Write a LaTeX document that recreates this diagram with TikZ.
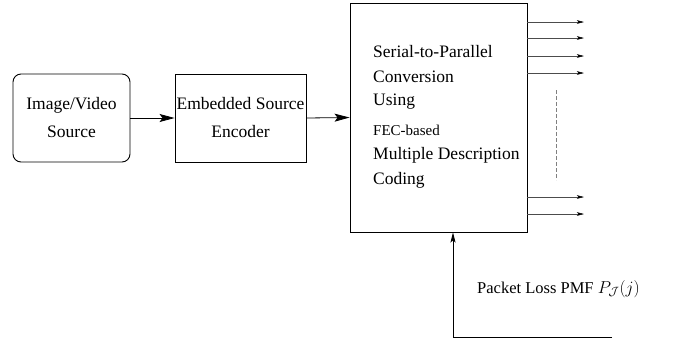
\documentclass[tikz,border=0pt]{standalone}
\usepackage{fontspec}
\setmainfont{Liberation Serif}
\usetikzlibrary{arrows.meta}
\begin{document}
\begin{tikzpicture}[x=1pt,y=-1pt,
  blk/.style={draw,line width=0.9pt,inner sep=0pt},
  bigtxt/.style={font=\fontsize{17.5}{28}\selectfont},
  boxtxt/.style={anchor=west,inner sep=0pt,font=\fontsize{17.5}{21}\selectfont},
  smalltxt/.style={anchor=west,inner sep=0pt,font=\fontsize{15}{18}\selectfont},
  mainarrow/.style={line width=0.8pt,-{Stealth[length=15pt,width=8pt,inset=3pt]}},
  outarrow/.style={line width=0.5pt,gray!60!black,-{Stealth[length=7pt,width=3.5pt,inset=1.5pt,fill=black,color=black]}},
  fbarrow/.style={line width=0.9pt,-{Stealth[length=10pt,width=5pt,inset=2pt]}}]
\useasboundingbox (0,0) rectangle (673,341);
% blocks
\node[blk,rounded corners=8pt,minimum width=117pt,minimum height=88pt,align=center,bigtxt] (src) at (71.5,118) {Image/Video\\Source};
\node[blk,minimum width=131pt,minimum height=88pt,align=center,bigtxt] (enc) at (240.5,118) {Embedded Source\\Encoder};
\node[blk,minimum width=177pt,minimum height=229pt] (big) at (438.5,117.5) {};
% text in big box
\node[boxtxt] (t1) at (373,52) {Serial-to-Parallel};
\node[boxtxt] (t2) at (373,77) {Conversion};
\node[boxtxt] (t3) at (373,102) {Using};
\node[smalltxt] (t4) at (373,130) {FEC-based};
\node[boxtxt] (t5) at (373,155) {Multiple Description};
\node[boxtxt] (t6) at (373,180) {Coding};
% main arrows
\draw[mainarrow] (src.east) -- (enc.west);
\draw[mainarrow] (enc.east) -- (big.west);
% outputs
\coordinate (o1) at (584,22);
\coordinate (o2) at (584,38);
\coordinate (o3) at (584,56);
\coordinate (o4) at (584,73);
\coordinate (o5) at (584,197);
\coordinate (o6) at (584,214);
\foreach \o in {o1,o2,o3,o4,o5,o6}
  \draw[outarrow] (big.east |- \o) -- (\o);
% dashed
\coordinate (d1) at (556,90);
\coordinate (d2) at (556,180);
\draw[gray,line width=0.6pt,dash pattern=on 4pt off 2pt] (d1) -- (d2);
% feedback
\coordinate (fbend) at (612,337);
\coordinate (fbtip) at ([xshift=14.5pt]big.south);
\draw[fbarrow] (fbend) -| (fbtip);
\node[anchor=west,inner sep=0pt,font=\fontsize{16.5}{19}\selectfont] (lbl) at (477,289) {Packet Loss PMF $P_{\mathcal{J}}(j)$};
\end{tikzpicture}
\end{document}
